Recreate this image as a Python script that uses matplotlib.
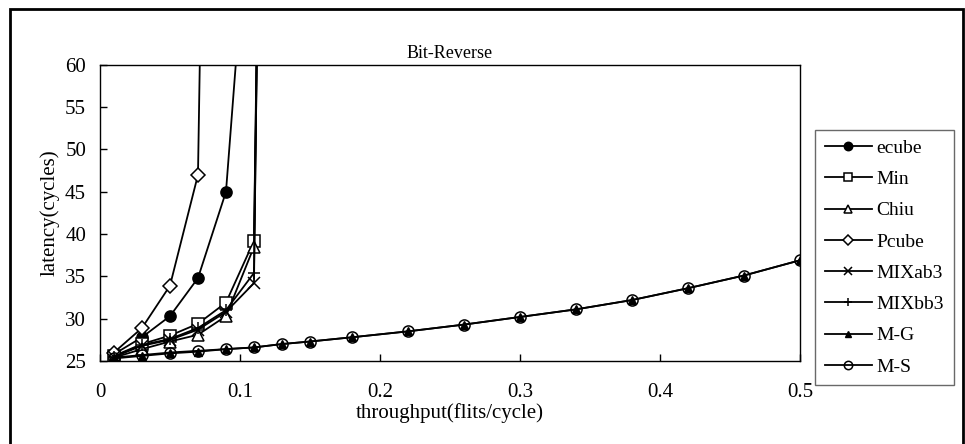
import numpy as np
import matplotlib.pyplot as plt
from matplotlib.patches import Rectangle

plt.rcParams['font.family'] = ['Liberation Serif', 'DejaVu Serif']

# dados (throughput x latencia)
x_sat1 = [0.01, 0.03, 0.05, 0.07, 0.09]
x_sat2 = [0.01, 0.03, 0.05, 0.07, 0.09, 0.11]
x_sat3 = [0.01, 0.03, 0.05, 0.07, 0.09, 0.11, 0.13]
x_full = [0.01, 0.03, 0.05, 0.07, 0.09, 0.11, 0.13, 0.15, 0.18, 0.22,
          0.26, 0.30, 0.34, 0.38, 0.42, 0.46, 0.50]

ecube = [25.8, 27.8, 30.3, 34.8, 45.0, 88.0]
pcube = [26.0, 28.9, 33.9, 47.0, 250.0]
minr = [25.6, 27.0, 28.0, 29.4, 31.9, 39.2, 280.0]
chiu = [25.4, 26.4, 27.3, 28.1, 30.3, 38.5, 270.0]
mixab3 = [25.5, 26.8, 27.5, 28.7, 30.8, 34.2, 300.0]
mixbb3 = [25.5, 26.9, 27.6, 28.9, 31.0, 35.4, 290.0]
mg = [25.3, 25.6, 25.9, 26.1, 26.4, 26.6, 27.0, 27.3, 27.8, 28.5,
      29.3, 30.2, 31.1, 32.2, 33.6, 35.1, 36.9]
ms = [25.4, 25.7, 26.0, 26.2, 26.4, 26.6, 27.0, 27.3, 27.8, 28.5,
      29.3, 30.2, 31.1, 32.2, 33.6, 35.1, 36.9]

fig = plt.figure(figsize=(9.65, 4.44), dpi=100)
ax = fig.add_axes([0.1036, 0.187, 0.7254, 0.667])

kw = dict(color='black', lw=1.3, ms=8, mew=1.1)
ax.plot(x_sat2, ecube, marker='o', mfc='black', label='ecube', **kw)
ax.plot(x_sat3, minr, marker='s', mfc='white', label='Min', **kw)
ax.plot(x_sat3, chiu, marker='^', mfc='white', label='Chiu', **kw)
ax.plot(x_sat1, pcube, marker='D', mfc='white', ms=7, label='Pcube',
        color='black', lw=1.3, mew=1.1)
ax.plot(x_sat3, mixab3, marker='x', label='MIXab3', **kw)
ax.plot(x_sat3, mixbb3, marker='+', label='MIXbb3', **kw)
ax.plot(x_full, ms, marker='o', mfc='none', label='M-S', zorder=3, **kw)
ax.plot(x_full, mg, marker='^', mfc='black', ms=6, label='M-G',
        color='black', lw=1.3, zorder=2.5)

ax.set_xlim(0, 0.5)
ax.set_ylim(25, 60)
ax.set_xticks(np.arange(0, 0.51, 0.1))
ax.set_xticklabels(['0', '0.1', '0.2', '0.3', '0.4', '0.5'])
ax.set_yticks(np.arange(25, 61, 5))
ax.tick_params(direction='in', length=5, width=1, labelsize=15)
ax.tick_params(axis='x', pad=16)
ax.tick_params(axis='y', pad=10)
for s in ax.spines.values():
    s.set_linewidth(1)

ax.set_title('Bit-Reverse', fontsize=13, pad=5)
ax.set_xlabel('throughput(flits/cycle)', fontsize=15, labelpad=1)
ax.set_ylabel('latency(cycles)', fontsize=15, labelpad=4)

h, l = ax.get_legend_handles_labels()
order = ['ecube', 'Min', 'Chiu', 'Pcube', 'MIXab3', 'MIXbb3', 'M-G', 'M-S']
idx = [l.index(n) for n in order]
leg = fig.legend([h[i] for i in idx], [l[i] for i in idx],
                 loc='upper left', bbox_to_anchor=(0.845, 0.708),
                 fontsize=14, frameon=True, fancybox=False,
                 edgecolor='#444444', handlelength=2.4, markerscale=0.75,
                 labelspacing=0.7, borderpad=0.5, handletextpad=0.25,
                 borderaxespad=0)
leg.get_frame().set_linewidth(1)

# moldura externa da figura
fig.patches.append(Rectangle((0.01, -0.02), 0.988, 1.0, transform=fig.transFigure,
                             fill=False, lw=2, ec='black'))

plt.savefig('out.png', dpi=100)
